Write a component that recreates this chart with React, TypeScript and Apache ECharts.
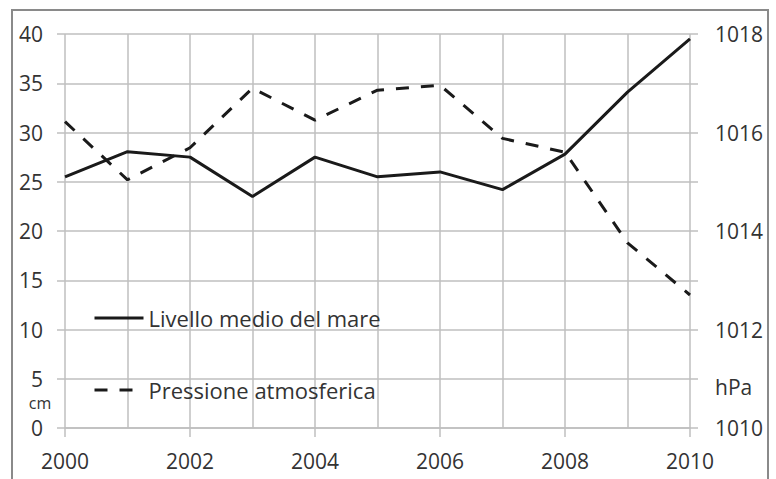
import React, { useEffect, useRef } from "react";
import * as echarts from "echarts";

const years = ["2000", "2001", "2002", "2003", "2004", "2005", "2006", "2007", "2008", "2009", "2010"];
const seaLevel = [25.5, 28.05, 27.5, 23.5, 27.5, 25.5, 26.0, 24.2, 27.8, 34.1, 39.5];
const pressure = [1016.22, 1015.04, 1015.69, 1016.9, 1016.25, 1016.86, 1016.96, 1015.88, 1015.6, 1013.76, 1012.7];
const seaName = "Livello medio del mare";
const pressName = "Pressione atmosferica";

const FONT = "'Open Sans', 'Noto Sans', sans-serif";
const GRID = "#bfbfbf";
const TXT = "#333333";
const LINE = "#1a1a1a";

export default function App() {
  const ref = useRef<HTMLDivElement>(null);
  useEffect(() => {
    document.body.style.margin = "0";
    const chart = echarts.init(ref.current!, null, { renderer: "svg" });
    const labelStyle = { fontSize: 21, fontFamily: FONT, color: TXT };
    const legendBase = {
      left: 93,
      padding: 0,
      itemWidth: 49,
      itemHeight: 20,
      itemStyle: { opacity: 0 },
      lineStyle: { width: 3, color: LINE },
      textStyle: { ...labelStyle, fontSize: 22, lineHeight: 20 },
    };
    chart.setOption({
      animation: false,
      backgroundColor: "#ffffff",
      grid: { left: 65, right: 86, top: 34, bottom: 51, containLabel: false },
      xAxis: {
        type: "category",
        data: years,
        boundaryGap: false,
        axisLine: { show: true, lineStyle: { color: GRID, width: 1.5 } },
        axisTick: { show: true, interval: 1, length: 9, lineStyle: { color: GRID, width: 1.5 } },
        axisLabel: { interval: 1, margin: 22, ...labelStyle },
        splitLine: { show: true, interval: 0, lineStyle: { color: GRID, width: 1.5 } },
      },
      yAxis: [
        {
          type: "value",
          min: 0,
          max: 40,
          interval: 5,
          position: "left",
          axisLine: { show: false },
          axisTick: { show: true, length: 8, lineStyle: { color: GRID, width: 1.5 } },
          axisLabel: { margin: 22, ...labelStyle, lineHeight: 18 },
          splitLine: { show: true, lineStyle: { color: GRID, width: 1.5 } },
        },
        {
          type: "value",
          min: 1010,
          max: 1018,
          interval: 1,
          position: "right",
          axisLine: { show: false },
          axisTick: { show: true, length: 8, lineStyle: { color: GRID, width: 1.5 } },
          axisLabel: {
            margin: 25,
            ...labelStyle,
            lineHeight: 18,
            formatter: (v: number) => (Math.round(v) % 2 === 0 ? String(Math.round(v)) : ""),
          },
          splitLine: { show: false },
        },
      ],
      legend: [
        { ...legendBase, data: [seaName], top: 307 },
        { ...legendBase, data: [pressName], top: 379 },
      ],
      series: [
        {
          name: seaName,
          type: "line",
          data: seaLevel,
          yAxisIndex: 0,
          symbol: "none",
          lineStyle: { color: LINE, width: 3, type: "solid" },
          itemStyle: { color: LINE },
        },
        {
          name: pressName,
          type: "line",
          data: pressure,
          yAxisIndex: 1,
          symbol: "none",
          lineStyle: { color: LINE, width: 3, type: [13, 12] },
          itemStyle: { color: LINE },
        },
      ],
      graphic: [
        {
          type: "rect",
          silent: true,
          shape: { x: 12, y: 10, width: 756, height: 520 },
          style: { fill: "none", stroke: "#8a8a8a", lineWidth: 2 },
        },
        {
          type: "text",
          x: 40,
          y: 403,
          style: {
            text: "cm",
            fontSize: 16,
            lineHeight: 12,
            fontFamily: FONT,
            fill: TXT,
            textAlign: "center",
            textVerticalAlign: "middle",
          },
        },
        {
          type: "text",
          x: 715,
          y: 387,
          style: {
            text: "hPa",
            fontSize: 21,
            fontFamily: FONT,
            fill: TXT,
            textAlign: "left",
            textVerticalAlign: "middle",
          },
        },
      ],
    });
    return () => chart.dispose();
  }, []);
  return <div ref={ref} style={{ width: 776, height: 479 }} />;
}
